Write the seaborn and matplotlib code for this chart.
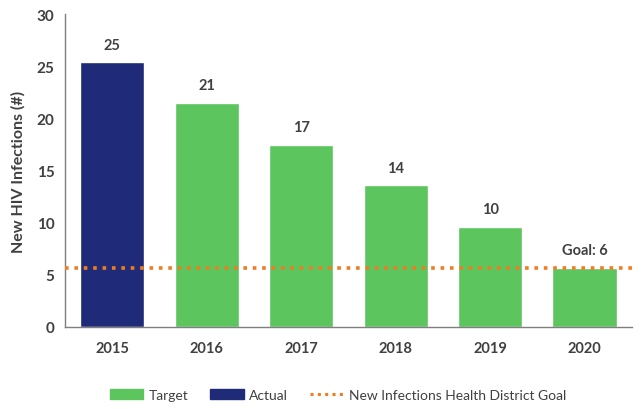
import numpy as np
import pandas as pd
import matplotlib.pyplot as plt
import seaborn as sns
from matplotlib.lines import Line2D
from matplotlib.patches import Patch

# Chart values
years = ['2015', '2016', '2017', '2018', '2019', '2020']
infections = [25.4, 21.5, 17.5, 13.6, 9.6, 5.7]
series = ['Actual', 'Target', 'Target', 'Target', 'Target', 'Target']
bar_labels = ['25', '21', '17', '14', '10', 'Goal: 6']
goal = 5.7

df = pd.DataFrame({'Year': years, 'Infections': infections, 'Series': series})

sns.set_style('white')
plt.rcParams['font.family'] = ['Lato', 'DejaVu Sans']

palette = {'Target': '#5CC55E', 'Actual': '#1F2A78'}
text_col = '#404040'

fig = plt.figure(figsize=(6.44, 4.10), dpi=100)
ax = fig.add_axes([0.101, 0.2, 0.88, 0.763])

sns.barplot(data=df, x='Year', y='Infections', hue='Series', palette=palette,
            dodge=False, width=0.68, saturation=1, legend=False, ax=ax)

# Goal line
ax.axhline(goal, color='#F07C22', linestyle=(0, (1, 1.6)), linewidth=2.6, zorder=5)

# Value labels above the bars
for i, (v, lab) in enumerate(zip(infections, bar_labels)):
    ax.text(i, v + 1.0, lab, ha='center', va='bottom', fontsize=10.5,
            fontweight='bold', color=text_col)

ax.set_ylim(0, 30)
ax.set_yticks(range(0, 31, 5))
ax.set_xlim(-0.5, len(years) - 0.5)
ax.set_xlabel('')
ax.set_ylabel('New HIV Infections (#)', fontsize=11.5, fontweight='bold',
              color=text_col, labelpad=8)

sns.despine(ax=ax)
for s in ['left', 'bottom']:
    ax.spines[s].set_color('#7f7f7f')
    ax.spines[s].set_linewidth(1.0)

# Excel-style ticks between categories
ax.set_xticks(np.arange(len(years)))
ax.set_xticklabels(years)
ax.set_xticks(np.arange(-0.5, len(years), 1.0), minor=True)
ax.tick_params(axis='x', which='major', length=0, pad=10, labelsize=10.5, labelcolor=text_col)
ax.tick_params(axis='x', which='minor', length=4, color='#7f7f7f', direction='out')
ax.tick_params(axis='y', length=4, color='#7f7f7f', direction='out', labelsize=11, labelcolor=text_col)
for t in ax.get_xticklabels() + ax.get_yticklabels():
    t.set_fontweight('bold')

handles = [Patch(color=palette['Target'], label='Target'),
           Patch(color=palette['Actual'], label='Actual'),
           Line2D([0], [0], color='#F07C22', linestyle=(0, (1, 1.4)), linewidth=2.2,
                  label='New Infections Health District Goal')]
leg = fig.legend(handles=handles, loc='lower center', bbox_to_anchor=(0.525, -0.01), ncol=3,
                 frameon=False, fontsize=10, handlelength=2.4, handleheight=0.7,
                 columnspacing=1.6, handletextpad=0.4)
for t in leg.get_texts():
    t.set_color(text_col)

fig.savefig('out.png', dpi=100)
